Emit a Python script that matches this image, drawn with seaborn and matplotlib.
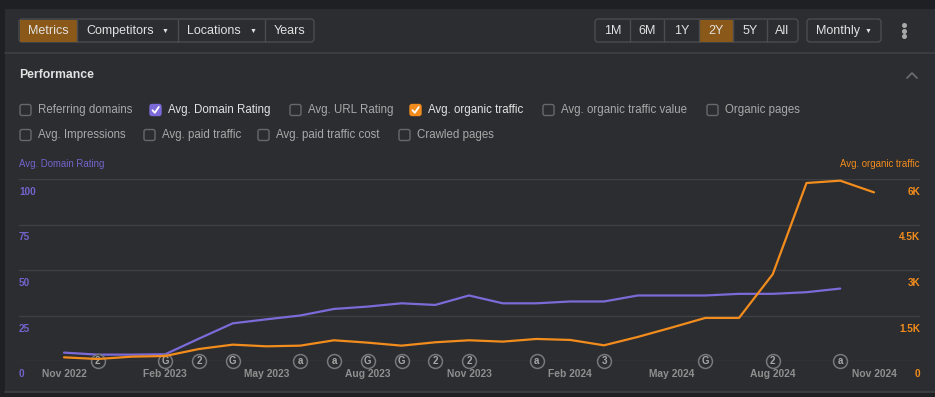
import matplotlib
matplotlib.use('Agg')
import matplotlib.pyplot as plt
import matplotlib.transforms as mtransforms
from matplotlib.patches import FancyBboxPatch, Rectangle
import pandas as pd
import numpy as np
import seaborn as sns

# 数据
months = ['Nov 2022', 'Dec 2022', 'Jan 2023', 'Feb 2023', 'Mar 2023', 'Apr 2023', 'May 2023',
          'Jun 2023', 'Jul 2023', 'Aug 2023', 'Sep 2023', 'Oct 2023', 'Nov 2023', 'Dec 2023',
          'Jan 2024', 'Feb 2024', 'Mar 2024', 'Apr 2024', 'May 2024', 'Jun 2024', 'Jul 2024',
          'Aug 2024', 'Sep 2024', 'Oct 2024', 'Nov 2024']
domain_rating = [4.6, 3.5, 3.5, 3.7, 12.3, 20.7, 22.9, 25, 28.6, 29.9, 31.7, 30.8, 36,
                 31.7, 31.7, 32.7, 32.7, 36, 36, 36, 36.9, 36.9, 37.8, 39.8, np.nan]
organic_traffic = [121, 66, 143, 165, 396, 539, 484, 506, 683, 605, 506, 617, 683,
                   639, 727, 694, 517, 793, 1101, 1420, 1420, 2862, 5868, 5945, 5560]
tick_months = ['Nov 2022', 'Feb 2023', 'May 2023', 'Aug 2023', 'Nov 2023',
               'Feb 2024', 'May 2024', 'Aug 2024', 'Nov 2024']
dr_ticks = [0, 25, 50, 75, 100]
traffic_ticks = [0, 1500, 3000, 4500, 6000]
traffic_tick_labels = ['0', '1.5K', '3K', '4.5K', '6K']
annot_months = ['Dec 2022', 'Feb 2023', 'Mar 2023', 'Apr 2023', 'Jun 2023', 'Jul 2023',
                'Aug 2023', 'Sep 2023', 'Oct 2023', 'Nov 2023', 'Jan 2024', 'Mar 2024',
                'Jun 2024', 'Aug 2024', 'Oct 2024']
annot_marks = ['2', 'G', '2', 'G', 'a', 'a', 'G', 'G', '2', '2', 'a', '3', 'G', '2', 'a']

row1_items = ['Referring domains', 'Avg. Domain Rating', 'Avg. URL Rating',
              'Avg. organic traffic', 'Avg. organic traffic value', 'Organic pages']
row2_items = ['Avg. Impressions', 'Avg. paid traffic', 'Avg. paid traffic cost', 'Crawled pages']

df = pd.DataFrame({'month': months, 'dr': domain_rating, 'traffic': organic_traffic})
df['idx'] = range(len(df))

# 颜色
BG_DARK = '#1f2023'
PANEL = '#2c2d30'
BORDER = '#4b4c50'
GRID = '#3f4044'
PURPLE = '#7b6ad8'
PURPLE_TXT = '#7264cc'
ORANGE = '#f28c1c'
BROWN = '#8a5818'
TEXT = '#e2e2e2'
MUTED = '#a9a9a9'

sns.set_theme(style='dark')
plt.rcParams['font.family'] = ['Liberation Sans', 'DejaVu Sans']

fig = plt.figure(figsize=(9.35, 3.97), dpi=100)
fig.patch.set_facecolor(BG_DARK)

# 背景界面 (像素坐标)
bg = fig.add_axes([0, 0, 1, 1], zorder=0)
bg.set_xlim(0, 935)
bg.set_ylim(397, 0)
bg.axis('off')
bg.add_patch(Rectangle((5, 9), 930, 383, facecolor=PANEL, edgecolor='none'))
bg.plot([5, 935], [52.5, 52.5], color=GRID, lw=1.2)
bg.plot([5, 935], [391.5, 391.5], color=GRID, lw=1.2)


def button_group(x0, x1, dividers, active, labels):
    bg.add_patch(FancyBboxPatch((x0, 19), x1 - x0, 23, boxstyle='round,pad=0,rounding_size=3',
                                facecolor=PANEL, edgecolor=BORDER, lw=1))
    edges = [x0] + dividers + [x1]
    a0, a1 = edges[active], edges[active + 1]
    bg.add_patch(Rectangle((a0 + 0.5, 19.5), a1 - a0 - 1, 22, facecolor=BROWN, edgecolor='none'))
    for d in dividers:
        bg.plot([d, d], [19.5, 41.5], color=BORDER, lw=1)
    for i, lab in enumerate(labels):
        if lab is None:
            continue
        bg.text((edges[i] + edges[i + 1]) / 2, 31, lab, color=TEXT, fontsize=9,
                ha='center', va='center')


button_group(19, 314, [77, 178, 265], 0, ['Metrics', None, None, 'Years'])
bg.text(86, 31, 'Competitors', color=TEXT, fontsize=9, ha='left', va='center')
bg.text(165, 31.5, '▼', color=TEXT, fontsize=5, ha='center', va='center')
bg.text(187, 31, 'Locations', color=TEXT, fontsize=9, ha='left', va='center')
bg.text(253, 31.5, '▼', color=TEXT, fontsize=5, ha='center', va='center')

button_group(595, 798, [630, 664, 699, 733, 767], 3, ['1M', '6M', '1Y', '2Y', '5Y', 'All'])
bg.add_patch(FancyBboxPatch((807, 19), 74, 23, boxstyle='round,pad=0,rounding_size=3',
                            facecolor=PANEL, edgecolor=BORDER, lw=1))
bg.text(816, 31, 'Monthly', color=TEXT, fontsize=9, ha='left', va='center')
bg.text(868, 31.5, '▼', color=TEXT, fontsize=5, ha='center', va='center')
for yy in [25, 30.5, 36]:
    bg.plot(904, yy, 'o', color=MUTED, ms=2.6)

bg.text(19, 75, 'Performance', color=TEXT, fontsize=8.8, fontweight='bold', ha='left', va='center')
bg.plot([907, 912, 917], [78, 73, 78], color='#6e6f73', lw=1.2)


def checkbox(x, y, label, color=None):
    face = color if color else PANEL
    edge = color if color else '#67686c'
    bg.add_patch(FancyBboxPatch((x, y - 5.5), 11, 11, boxstyle='round,pad=0,rounding_size=2',
                                facecolor=face, edgecolor=edge, lw=1))
    if color:
        bg.plot([x + 2.5, x + 4.8, x + 8.8], [y + 0.2, y + 2.8, y - 3], color='white', lw=1.3)
    bg.text(x + 18, y, label, color=TEXT if color else MUTED, fontsize=8.3, ha='left', va='center')


row1_x = [20, 150, 290, 410, 543, 707]
row1_col = [None, PURPLE, None, ORANGE, None, None]
for x, lab, c in zip(row1_x, row1_items, row1_col):
    checkbox(x, 110, lab, c)
row2_x = [20, 144, 258, 399]
for x, lab in zip(row2_x, row2_items):
    checkbox(x, 135, lab)

# 图表
ax = fig.add_axes([19 / 935, 36 / 397, 901 / 935, 182 / 397], zorder=2)
ax.patch.set_visible(False)
sns.lineplot(data=df, x='idx', y='dr', ax=ax, color=PURPLE, lw=1.6)
ax2 = ax.twinx()
ax2.patch.set_visible(False)
sns.lineplot(data=df, x='idx', y='traffic', ax=ax2, color=ORANGE, lw=1.6)

x_lo = (19 - 64) / 33.75
x_hi = (920 - 64) / 33.75
for a in (ax, ax2):
    a.set_xlim(x_lo, x_hi)
    a.set_xlabel('')
    a.set_ylabel('')
    for s in a.spines.values():
        s.set_visible(False)
    a.tick_params(length=0)
ax.set_ylim(0, 100)
ax2.set_ylim(0, 6000)
ax.set_yticks(dr_ticks)
ax.set_yticklabels([])
ax2.set_yticks([])
ax.grid(axis='y', color=GRID, lw=1)
ax.grid(axis='x', visible=False)

ax.set_xticks([months.index(m) for m in tick_months])
ax.set_xticklabels(tick_months, color='#8f8f8f', fontsize=7.4, fontweight='bold')
ax.tick_params(axis='x', pad=6)

# 刻度标签放在网格线下方
left_tr = mtransforms.offset_copy(ax.get_yaxis_transform(), fig=fig, y=-13, units='dots')
right_tr = mtransforms.offset_copy(ax2.get_yaxis_transform(), fig=fig, y=-13, units='dots')
for v in dr_ticks:
    ax.text(0, v, str(v), transform=left_tr, color=PURPLE_TXT, fontsize=7.2, fontweight='bold',
            ha='left', va='center')
for v, lab in zip(traffic_ticks, traffic_tick_labels):
    ax2.text(1, v, lab, transform=right_tr, color=ORANGE, fontsize=7.2, fontweight='bold',
             ha='right', va='center')

ax.text(0, 1.055, 'Avg. Domain Rating', transform=ax.transAxes, color=PURPLE_TXT, fontsize=6.9,
        ha='left', va='bottom')
ax.text(1, 1.055, 'Avg. organic traffic', transform=ax.transAxes, color=ORANGE, fontsize=6.9,
        ha='right', va='bottom')

# 事件标记
ax_idx = [months.index(m) for m in annot_months]
ax.scatter(ax_idx, [0] * len(ax_idx), s=100, facecolor=PANEL, edgecolor='#77787b',
           lw=1.1, zorder=4, clip_on=False)
for i, mk in zip(ax_idx, annot_marks):
    ax.text(i, 0, mk, color='#a8a8a8', fontsize=7, fontweight='bold', ha='center',
            va='center', zorder=5, clip_on=False)

fig.savefig('out.png', dpi=100, facecolor=fig.get_facecolor())
